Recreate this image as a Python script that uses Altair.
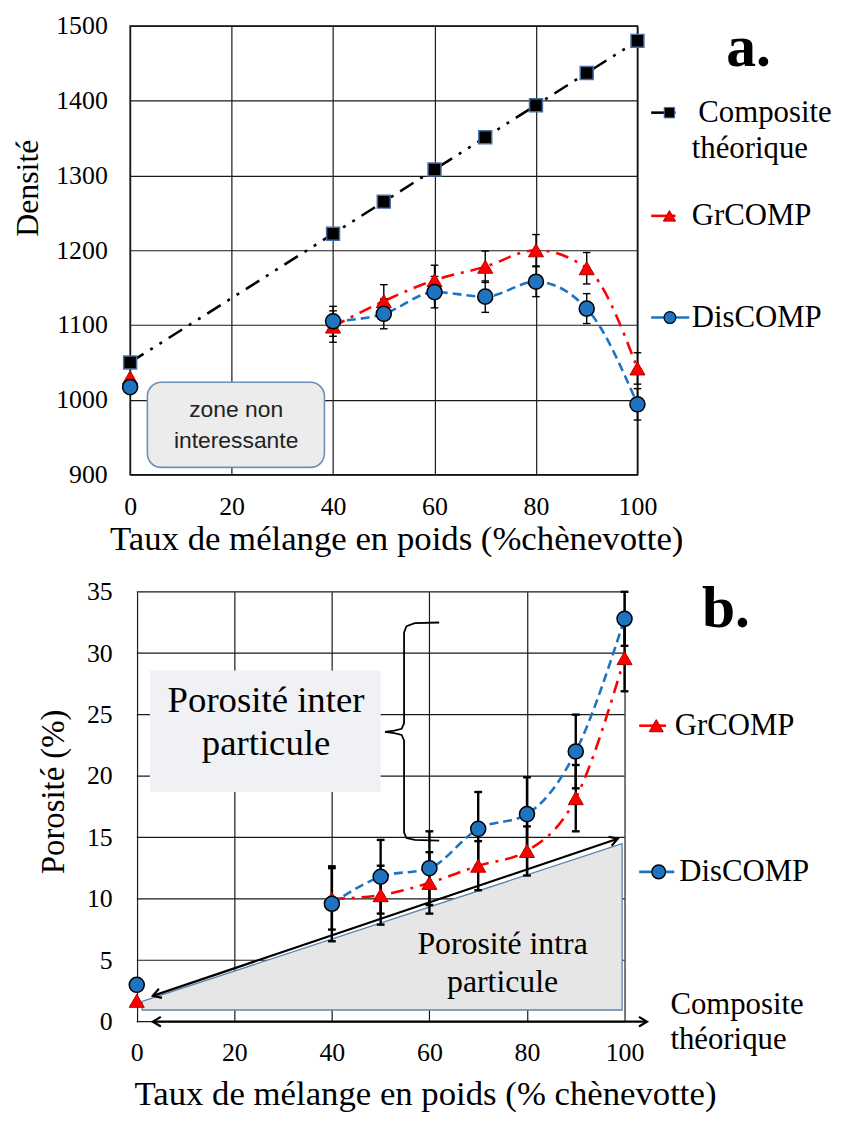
import altair as alt
import pandas as pd

# ---------------- data ----------------
mix = [0, 40, 50, 60, 70, 80, 90, 100]

dens_theo = [1050, 1222, 1265, 1308, 1351, 1394, 1437, 1480]
dens_gr = [1030, 1098, 1132, 1160, 1178, 1200, 1176, 1042]
dens_gr_err = [0, 21, 22, 20, 21, 21, 21, 21]
dens_dis = [1017, 1105, 1115, 1144, 1138, 1158, 1122, 994]
dens_dis_err = [0, 20, 20, 21, 21, 20, 20, 21]

por_gr = [1.7, 10.0, 10.3, 11.3, 12.7, 13.9, 18.2, 29.6]
por_gr_err = [0, 2.5, 2.4, 2.5, 2.0, 2.0, 2.7, 2.7]
por_dis = [3.0, 9.6, 11.8, 12.5, 15.7, 16.9, 22.0, 32.8]
por_dis_err = [0, 3.05, 3.0, 3.0, 3.0, 3.0, 3.0, 2.2]

x_ticks = [0, 20, 40, 60, 80, 100]
dens_ticks = [900, 1000, 1100, 1200, 1300, 1400, 1500]
por_ticks = [0, 5, 10, 15, 20, 25, 30, 35]

FONT = "Liberation Serif"
SANS = "Liberation Sans"
BLUE = "#1e74c0"
RED = "#ff0000"
GRID = "#1a1a1a"


def df_series(x, y, e=None, xmin=None):
    d = pd.DataFrame({"x": x, "y": y})
    if e is not None:
        d["e"] = e
    if xmin is not None:
        d = d[d["x"] >= xmin]
    return d


def err_layers(df, X, xsc, ysc, cap, width):
    base = alt.Chart(df).transform_filter("datum.e > 0").transform_calculate(
        lo="datum.y - datum.e", hi="datum.y + datum.e",
        xl=f"datum.x - {cap}", xr=f"datum.x + {cap}")
    rule = base.mark_rule(color="black", strokeWidth=width).encode(
        x=X, y=alt.Y("lo:Q", scale=ysc), y2="hi:Q")
    cap_lo = base.mark_rule(color="black", strokeWidth=width).encode(
        x=alt.X("xl:Q", scale=xsc), x2="xr:Q", y=alt.Y("lo:Q", scale=ysc))
    cap_hi = base.mark_rule(color="black", strokeWidth=width).encode(
        x=alt.X("xl:Q", scale=xsc), x2="xr:Q", y=alt.Y("hi:Q", scale=ysc))
    return [rule, cap_lo, cap_hi]


# ================= TOP CHART (a) =================
xs_top = alt.Scale(domain=[0, 100], nice=False, zero=False)
ys_top = alt.Scale(domain=[900, 1500], nice=False, zero=False)

X_top = alt.X("x:Q", scale=xs_top, axis=alt.Axis(
    values=x_ticks, format="d", title="Taux de mélange en poids (%chènevotte)",
    grid=True, gridColor=GRID, gridWidth=1.2, domain=False, ticks=False,
    labelFont=FONT, labelFontSize=26, labelColor="black",
    labelPadding=19, labelFlush=False, labelOverlap=False,
    titleFont=FONT, titleFontSize=35, titleFontWeight="normal", titleColor="black",
    titlePadding=2, titleX=268))
Y_top = alt.Y("y:Q", scale=ys_top, axis=alt.Axis(
    values=dens_ticks, format="d", title="Densité",
    grid=True, gridColor=GRID, gridWidth=1.2, domain=False, ticks=False,
    labelFont=FONT, labelFontSize=26, labelColor="black",
    labelPadding=23, labelOverlap=False,
    titleFont=FONT, titleFontSize=32, titleFontWeight="normal", titleColor="black",
    titleX=-103, titleY=163, titleAlign="center", titleBaseline="middle"))

theo_df = df_series(mix, dens_theo)
gr_df = df_series(mix, dens_gr, dens_gr_err)
dis_df = df_series(mix, dens_dis, dens_dis_err)

t_theo_line = alt.Chart(theo_df).mark_line(
    color="black", strokeWidth=2.6, strokeDash=[16, 8, 3, 8, 3, 8]
).encode(x=X_top, y=Y_top)
t_gr_line = alt.Chart(df_series(mix, dens_gr, xmin=40)).mark_line(
    color=RED, strokeWidth=2.6, strokeDash=[13, 7, 3, 7], interpolate="monotone"
).encode(x=X_top, y=Y_top)
t_dis_line = alt.Chart(df_series(mix, dens_dis, xmin=40)).mark_line(
    color=BLUE, strokeWidth=2.6, strokeDash=[9, 5], interpolate="monotone"
).encode(x=X_top, y=Y_top)

t_err = (err_layers(gr_df, X_top, xs_top, ys_top, 0.75, 1.4)
         + err_layers(dis_df, X_top, xs_top, ys_top, 0.75, 1.4))

t_theo_pts = alt.Chart(theo_df).mark_point(
    shape="square", filled=True, fill="black", stroke="#4a6fa8", strokeWidth=1.5,
    size=170, opacity=1).encode(x=X_top, y=Y_top)
t_gr_pts = alt.Chart(gr_df).mark_point(
    shape="triangle-up", filled=True, fill=RED, stroke="#b00000", strokeWidth=1,
    size=230, opacity=1).encode(x=X_top, y=Y_top)
t_dis_pts = alt.Chart(dis_df).mark_point(
    shape="circle", filled=True, fill=BLUE, stroke="black", strokeWidth=1.5,
    size=230, opacity=1).encode(x=X_top, y=Y_top)

zone_df = pd.DataFrame({"x": [3.4], "x2": [38.3], "y": [909.7], "y2": [1023.5]})
t_zone = alt.Chart(zone_df).mark_rect(
    fill="#ececec", stroke="#6d8fba", strokeWidth=1.6, cornerRadius=14
).encode(x=X_top, x2="x2:Q", y=Y_top, y2="y2:Q")
zone_txt_df = pd.DataFrame({"x": [20.9, 20.9], "y": [987, 945],
                            "t": ["zone non", "interessante"]})
t_zone_txt = alt.Chart(zone_txt_df).mark_text(
    font=SANS, fontSize=23, color="#222222", align="center", baseline="middle"
).encode(x=X_top, y=Y_top, text="t:N")

leg_line_df = pd.DataFrame({
    "x": [102.7, 102.7, 102.7], "x2": [107.5, 107.5, 110.2],
    "y": [1384, 1246, 1110], "c": ["black", RED, BLUE]})
t_leg_lines = alt.Chart(leg_line_df).mark_rule(strokeWidth=2.6).encode(
    x=X_top, x2="x2:Q", y=Y_top, color=alt.Color("c:N", scale=None))
t_leg_sq = alt.Chart(pd.DataFrame({"x": [106.3], "y": [1384]})).mark_point(
    shape="square", filled=True, fill="black", stroke="#4a6fa8", strokeWidth=1,
    size=110, opacity=1).encode(x=X_top, y=Y_top)
t_leg_tri = alt.Chart(pd.DataFrame({"x": [106.3], "y": [1246]})).mark_point(
    shape="triangle-up", filled=True, fill=RED, stroke="#b00000", strokeWidth=1,
    size=150, opacity=1).encode(x=X_top, y=Y_top)
t_leg_cir = alt.Chart(pd.DataFrame({"x": [106.4], "y": [1110]})).mark_point(
    shape="circle", filled=True, fill=BLUE, stroke="black", strokeWidth=1.2,
    size=140, opacity=1).encode(x=X_top, y=Y_top)
leg_txt_df = pd.DataFrame({
    "x": [112.0, 110.7, 110.7, 110.7],
    "y": [1384, 1335, 1246, 1110],
    "t": ["Composite", "théorique", "GrCOMP", "DisCOMP"]})
t_leg_txt = alt.Chart(leg_txt_df).mark_text(
    font=FONT, fontSize=31, color="black", align="left",
    baseline="middle").encode(x=X_top, y=Y_top, text="t:N")
t_label = alt.Chart(pd.DataFrame({"x": [121.9], "y": [1470], "t": ["a."]})).mark_text(
    font=FONT, fontSize=60, fontWeight="bold", color="black", align="center",
    baseline="middle").encode(x=X_top, y=Y_top, text="t:N")

top = alt.layer(
    t_zone, t_zone_txt, t_theo_line, t_gr_line, t_dis_line, *t_err,
    t_theo_pts, t_gr_pts, t_dis_pts,
    t_leg_lines, t_leg_sq, t_leg_tri, t_leg_cir, t_leg_txt, t_label
).properties(width=511, height=452,
             view=alt.ViewBackground(stroke="#111111", strokeWidth=1.5))

# ================= BOTTOM CHART (b) =================
xs_bot = alt.Scale(domain=[-1.36, 100], nice=False, zero=False)
ys_bot = alt.Scale(domain=[0, 35], nice=False, zero=False)

X_bot = alt.X("x:Q", scale=xs_bot, axis=alt.Axis(
    values=x_ticks, format="d", title="Taux de mélange en poids (% chènevotte)",
    grid=True, gridColor=GRID, gridWidth=1.2, domain=False, ticks=False,
    labelFont=FONT, labelFontSize=26, labelColor="black", labelPadding=18,
    labelFlush=False, labelOverlap=False,
    titleFont=FONT, titleFontSize=35, titleFontWeight="normal", titleColor="black",
    titlePadding=11, titleX=297))
Y_bot = alt.Y("y:Q", scale=ys_bot, axis=alt.Axis(
    values=por_ticks, format="d", title="Porosité (%)",
    grid=False, domain=False, ticks=False,
    labelFont=FONT, labelFontSize=26, labelColor="black", labelPadding=18,
    labelOverlap=False,
    titleFont=FONT, titleFontSize=33, titleFontWeight="normal", titleColor="black",
    titleX=-77, titleY=201, titleAlign="center", titleBaseline="middle"))

hgrid_df = pd.DataFrame({"y": por_ticks, "x": [0] * len(por_ticks),
                         "x2": [100] * len(por_ticks)})
b_hgrid = alt.Chart(hgrid_df).mark_rule(color=GRID, strokeWidth=1.2).encode(
    x=X_bot, x2="x2:Q", y=Y_bot)

wedge_df = pd.DataFrame({"x": [1.1, 99.5], "y": [1.65, 14.5], "y2": [0.95, 0.95]})
b_wedge = alt.Chart(wedge_df).mark_area(
    fill="#e6e6e6", stroke="#5b84b1", strokeWidth=1.3, opacity=1, fillOpacity=1
).encode(x=X_bot, y=Y_bot, y2="y2:Q")

inter_df = pd.DataFrame({"x": [2.7], "x2": [50.0], "y": [18.7], "y2": [28.6]})
b_inter = alt.Chart(inter_df).mark_rect(fill="#eff1f4").encode(
    x=X_bot, x2="x2:Q", y=Y_bot, y2="y2:Q")
inter_txt = pd.DataFrame({"x": [26.5, 26.5], "y": [26.1, 22.6],
                          "t": ["Porosité inter", "particule"]})
b_inter_txt = alt.Chart(inter_txt).mark_text(
    font=FONT, fontSize=37, color="black", align="center", baseline="middle"
).encode(x=X_bot, y=Y_bot, text="t:N")
intra_txt = pd.DataFrame({"x": [75.0, 75.0], "y": [6.3, 3.25],
                          "t": ["Porosité intra", "particule"]})
b_intra_txt = alt.Chart(intra_txt).mark_text(
    font=FONT, fontSize=32, color="black", align="center", baseline="middle"
).encode(x=X_bot, y=Y_bot, text="t:N")

brace_x = [62.0, 57.0, 55.3, 54.8, 54.8, 54.3, 52.8, 50.9, 52.8, 54.3, 54.8, 54.8, 55.3, 57.0, 62.0]
brace_y = [32.5, 32.45, 32.2, 31.7, 24.3, 23.85, 23.7, 23.6, 23.5, 23.35, 22.9, 15.4, 14.95, 14.8, 14.75]
brace_df = pd.DataFrame({"x": brace_x, "y": brace_y, "o": list(range(len(brace_x)))})
b_brace = alt.Chart(brace_df).mark_line(color="black", strokeWidth=1.8).encode(
    x=X_bot, y=Y_bot, order="o:Q")

arrow_df = pd.DataFrame({"x": [3.3, 3.3], "x2": [98.6, 104.6],
                         "y": [2.1, 0.0], "y2": [14.9, 0.0]})
b_arrows = alt.Chart(arrow_df).mark_rule(color="black", strokeWidth=2.2).encode(
    x=X_bot, x2="x2:Q", y=Y_bot, y2="y2:Q")
heads_df = pd.DataFrame({"x": [3.3, 98.6, 3.3, 104.6], "y": [2.1, 14.9, 0.0, 0.0],
                         "ang": [161.2, 341.2, 180, 0]})
b_heads = alt.Chart(heads_df).mark_point(
    shape="M-1,-0.6L0,0L-1,0.6", filled=False, stroke="black", strokeWidth=2.2,
    size=260, opacity=1
).encode(x=X_bot, y=Y_bot, angle=alt.Angle("ang:Q", scale=None))

pgr_df = df_series(mix, por_gr, por_gr_err)
pdis_df = df_series(mix, por_dis, por_dis_err)

b_gr_line = alt.Chart(df_series(mix, por_gr, xmin=40)).mark_line(
    color=RED, strokeWidth=2.6, strokeDash=[13, 7, 3, 7], interpolate="monotone"
).encode(x=X_bot, y=Y_bot)
b_dis_line = alt.Chart(df_series(mix, por_dis, xmin=40)).mark_line(
    color=BLUE, strokeWidth=2.6, strokeDash=[9, 5], interpolate="monotone"
).encode(x=X_bot, y=Y_bot)
b_err = (err_layers(pgr_df, X_bot, xs_bot, ys_bot, 0.8, 2.4)
         + err_layers(pdis_df, X_bot, xs_bot, ys_bot, 0.8, 2.4))
b_gr_pts = alt.Chart(pgr_df).mark_point(
    shape="triangle-up", filled=True, fill=RED, stroke="#b00000", strokeWidth=1,
    size=230, opacity=1).encode(x=X_bot, y=Y_bot)
b_dis_pts = alt.Chart(pdis_df).mark_point(
    shape="circle", filled=True, fill=BLUE, stroke="black", strokeWidth=1.5,
    size=230, opacity=1).encode(x=X_bot, y=Y_bot)

bleg_line_df = pd.DataFrame({"x": [103.0, 103.0], "x2": [108.5, 110.2],
                             "y": [24.1, 12.2], "c": [RED, BLUE]})
b_leg_lines = alt.Chart(bleg_line_df).mark_rule(strokeWidth=2.6).encode(
    x=X_bot, x2="x2:Q", y=Y_bot, color=alt.Color("c:N", scale=None))
b_leg_tri = alt.Chart(pd.DataFrame({"x": [106.5], "y": [24.1]})).mark_point(
    shape="triangle-up", filled=True, fill=RED, stroke="#b00000", strokeWidth=1,
    size=200, opacity=1).encode(x=X_bot, y=Y_bot)
b_leg_cir = alt.Chart(pd.DataFrame({"x": [107.0], "y": [12.2]})).mark_point(
    shape="circle", filled=True, fill=BLUE, stroke="black", strokeWidth=1.4,
    size=190, opacity=1).encode(x=X_bot, y=Y_bot)
bleg_txt_df = pd.DataFrame({
    "x": [110.3, 111.2, 109.4, 109.4],
    "y": [24.1, 12.2, 1.37, -1.5],
    "t": ["GrCOMP", "DisCOMP", "Composite", "théorique"]})
b_leg_txt = alt.Chart(bleg_txt_df).mark_text(
    font=FONT, fontSize=31, color="black", align="left", baseline="middle"
).encode(x=X_bot, y=Y_bot, text="t:N")
b_label = alt.Chart(pd.DataFrame({"x": [120.8], "y": [33.6], "t": ["b."]})).mark_text(
    font=FONT, fontSize=60, fontWeight="bold", color="black", align="center",
    baseline="middle").encode(x=X_bot, y=Y_bot, text="t:N")

bottom = alt.layer(
    b_hgrid, b_inter, b_wedge, b_inter_txt, b_intra_txt, b_brace, b_arrows, b_heads,
    b_gr_line, b_dis_line, *b_err, b_gr_pts, b_dis_pts,
    b_leg_lines, b_leg_tri, b_leg_cir, b_leg_txt, b_label
).properties(width=498, height=433,
             view=alt.ViewBackground(strokeWidth=0, stroke="transparent"))

chart = alt.vconcat(top, bottom, spacing=22).properties(
    padding={"left": 3, "top": 0, "right": 5, "bottom": 4},
    background="white"
).configure_view(strokeWidth=0)

chart.save("out.html", embed_options={"renderer": "svg", "actions": False})
